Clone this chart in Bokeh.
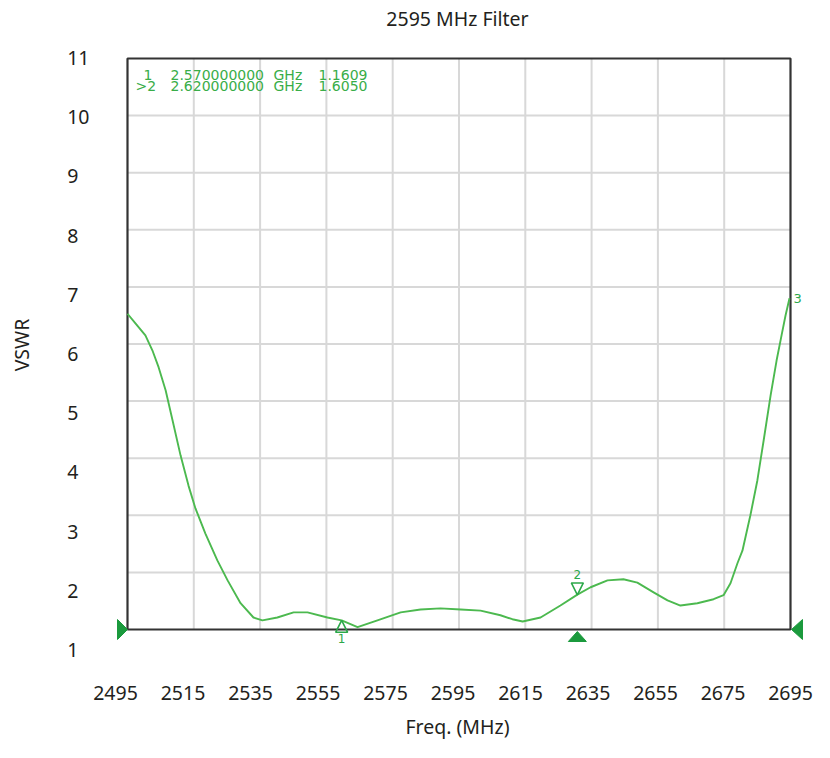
from bokeh.plotting import figure
from bokeh.models import Range1d, LinearAxis, FixedTicker, Label
from bokeh.core.properties import value
from bokeh.embed import file_html
from bokeh.resources import INLINE

# ---------------- data ----------------
title_text = "2595 MHz Filter"
x_label = "Freq. (MHz)"
y_label = "VSWR"

x_ticks = [2495, 2515, 2535, 2555, 2575, 2595, 2615, 2635, 2655, 2675, 2695]
y_ticks = [1, 2, 3, 4, 5, 6, 7, 8, 9, 10, 11]

freq = [2495.0, 2497.4, 2500.4, 2502.5, 2504.4, 2506.5, 2508.6, 2511.0, 2513.4,
        2515.5, 2518.5, 2522.1, 2525.2, 2529.1, 2533.0, 2535.7, 2540.2, 2545.1,
        2549.3, 2555.3, 2559.6, 2564.4, 2570.4, 2577.4, 2583.4, 2589.4, 2595.5,
        2601.5, 2607.5, 2611.1, 2614.2, 2619.6, 2625.6, 2630.7, 2634.7, 2639.8,
        2644.6, 2648.8, 2653.7, 2657.9, 2661.8, 2666.9, 2671.8, 2674.8, 2676.9,
        2679.0, 2680.5, 2682.9, 2685.0, 2686.9, 2689.0, 2690.8, 2692.3, 2693.5,
        2694.7]
vswr = [6.53, 6.36, 6.15, 5.89, 5.59, 5.19, 4.66, 4.05, 3.52,
        3.12, 2.68, 2.21, 1.86, 1.46, 1.21, 1.16, 1.21, 1.30,
        1.30, 1.21, 1.16, 1.04, 1.16, 1.30, 1.35, 1.37, 1.35,
        1.33, 1.25, 1.18, 1.14, 1.21, 1.42, 1.61, 1.74, 1.86,
        1.88, 1.82, 1.65, 1.51, 1.42, 1.46, 1.53, 1.60, 1.81,
        2.16, 2.38, 3.00, 3.61, 4.31, 5.10, 5.71, 6.15, 6.50,
        6.80]

# markers (display position on trace, instrument read-out)
marker_names = ["1", "2"]
marker_x = [2559.6, 2630.7]
marker_y = [1.1609, 1.6050]
readout_ids = ["1", ">2"]
readout_freq = ["2.570000000", "2.620000000"]
readout_unit = ["GHz", "GHz"]
readout_vals = ["1.1609", "1.6050"]
end_marker = "3"
ref_level = 1

# ---------------- layout constants (figure pixels) ----------------
W, H = 814, 742
BOX_L, BOX_R, BOX_T, BOX_B = 127, 790, 58, 629      # instrument graticule
FR_L, FR_R, FR_T, FR_B = 108, 806, 37, 652          # bokeh frame
PX_X = (BOX_R - BOX_L) / (x_ticks[-1] - x_ticks[0])  # px per MHz
PX_Y = (BOX_B - BOX_T) / (y_ticks[-1] - y_ticks[0])  # px per unit
LAB_X0, LAB_X1 = 115, 790                            # tick label centres
LAB_Y0, LAB_Y1 = 649, 57


def dx(px):
    return px / PX_X


def dy(px):  # screen px downward -> data
    return -px / PX_Y


x_start = x_ticks[0] - dx(BOX_L - FR_L)
x_end = x_ticks[-1] + dx(FR_R - BOX_R)
y_start = y_ticks[0] - (FR_B - BOX_B) / PX_Y
y_end = y_ticks[-1] + (BOX_T - FR_T) / PX_Y

lpx = (LAB_X1 - LAB_X0) / (x_ticks[-1] - x_ticks[0])
lab_x_start = x_ticks[0] - (LAB_X0 - FR_L) / lpx
lab_x_end = x_ticks[-1] + (FR_R - LAB_X1) / lpx
lpy = (LAB_Y0 - LAB_Y1) / (y_ticks[-1] - y_ticks[0])
lab_y_start = y_ticks[0] - (FR_B - LAB_Y0) / lpy
lab_y_end = y_ticks[-1] + (LAB_Y1 - FR_T) / lpy

FONT = "Noto Sans"
TXT = "#231f20"
GRID = "#d8d8d8"
BOXC = "#333333"
TRACE = "#4cb94f"
MK = "#2ca84a"
MK_SOLID = "#1b9a3d"
RO = "#39ad48"

p = figure(width=W, height=H,
           x_range=Range1d(x_start, x_end), y_range=Range1d(y_start, y_end),
           x_axis_location=None, y_axis_location=None,
           min_border_left=FR_L, min_border_right=W - FR_R,
           min_border_top=FR_T, min_border_bottom=H - FR_B,
           output_backend="svg", toolbar_location=None)
p.grid.grid_line_color = None
p.outline_line_color = None
p.background_fill_color = "white"
p.border_fill_color = "white"

p.title.text = title_text
p.title.align = "center"
p.title.vertical_align = "top"
p.title.standoff = 8
p.title.offset = 5
p.title.text_font = FONT
p.title.text_font_size = "19.5px"
p.title.text_font_style = "normal"
p.title.text_color = TXT

p.extra_x_ranges = {"lab": Range1d(lab_x_start, lab_x_end)}
p.extra_y_ranges = {"lab": Range1d(lab_y_start, lab_y_end)}

xaxis = LinearAxis(x_range_name="lab", ticker=FixedTicker(ticks=x_ticks),
                   axis_label=x_label)
yaxis = LinearAxis(y_range_name="lab", ticker=FixedTicker(ticks=y_ticks),
                   axis_label=y_label)
yaxis.major_label_overrides = {t: (str(t) + "\u2007" if t < 10 else str(t)) for t in y_ticks}
for ax in (xaxis, yaxis):
    ax.axis_line_color = None
    ax.major_tick_line_color = None
    ax.minor_tick_line_color = None
    ax.major_tick_in = 0
    ax.major_tick_out = 0
    ax.minor_tick_in = 0
    ax.minor_tick_out = 0
    ax.major_label_text_font = FONT
    ax.major_label_text_font_size = "19.5px"
    ax.major_label_text_color = TXT
    ax.axis_label_text_font = FONT
    ax.axis_label_text_font_size = "19.5px"
    ax.axis_label_text_font_style = "normal"
    ax.axis_label_text_color = TXT
xaxis.major_label_standoff = 33
xaxis.axis_label_standoff = 10
yaxis.major_label_standoff = 19
yaxis.axis_label_standoff = 29
p.add_layout(xaxis, "below")
p.add_layout(yaxis, "left")

# graticule
inner_x = x_ticks[1:-1]
inner_y = y_ticks[1:-1]
p.segment(x0=inner_x, x1=inner_x, y0=[y_ticks[0]] * len(inner_x), y1=[y_ticks[-1]] * len(inner_x),
          line_color=GRID, line_width=2)
p.segment(x0=[x_ticks[0]] * len(inner_y), x1=[x_ticks[-1]] * len(inner_y), y0=inner_y, y1=inner_y,
          line_color=GRID, line_width=2)
p.quad(left=[x_ticks[0]], right=[x_ticks[-1]], bottom=[y_ticks[0]], top=[y_ticks[-1]],
       fill_color=None, line_color=BOXC, line_width=2.2)

# trace
p.line(freq, vswr, line_color=TRACE, line_width=1.9, line_join="round")

# marker 1 (triangle pointing up below trace) and marker 2 (pointing down above)
m1x, m1y = marker_x[0], marker_y[0]
m2x, m2y = marker_x[1], marker_y[1]
p.patch([m1x, m1x - dx(6), m1x + dx(6)], [m1y, m1y + dy(12), m1y + dy(12)],
        fill_color=None, line_color=MK, line_width=1.6)
p.text(x=[m1x], y=[m1y + dy(18)], text=[marker_names[0]], text_align="center",
       text_baseline="middle", text_font=value("DejaVu Sans"), text_font_size="12px",
       text_color=MK)
p.patch([m2x, m2x - dx(6), m2x + dx(6)], [m2y, m2y - dy(12), m2y - dy(12)],
        fill_color=None, line_color=MK, line_width=1.6)
p.text(x=[m2x], y=[m2y - dy(20)], text=[marker_names[1]], text_align="center",
       text_baseline="middle", text_font=value("DejaVu Sans"), text_font_size="12px",
       text_color=MK)

# end-of-trace marker label
p.text(x=[freq[-1]], y=[vswr[-1]], text=[end_marker], x_offset=4, text_align="left",
       text_baseline="middle", text_font=value("DejaVu Sans"), text_font_size="13px",
       text_color=MK)

# reference level / active marker solid triangles
xl, xr = x_ticks[0], x_ticks[-1]
p.patch([xl, xl - dx(10), xl - dx(10)], [ref_level, ref_level - dy(10), ref_level + dy(10)],
        fill_color=MK_SOLID, line_color=MK_SOLID)
p.patch([xr + dx(1), xr + dx(12), xr + dx(12)], [ref_level, ref_level - dy(10), ref_level + dy(10)],
        fill_color=MK_SOLID, line_color=MK_SOLID)
p.patch([m2x, m2x - dx(9), m2x + dx(9)], [ref_level + dy(2), ref_level + dy(12), ref_level + dy(12)],
        fill_color=MK_SOLID, line_color=MK_SOLID)

# marker read-out table
col_px = [16, 43, 146, 191]
row_px = [16.5, 27.7]
for i in range(len(readout_ids)):
    yy = y_ticks[-1] + dy(row_px[i])
    id_px = col_px[0] if not readout_ids[i].startswith(">") else 8
    cells = [(id_px, readout_ids[i]), (col_px[1], readout_freq[i]),
             (col_px[2], readout_unit[i]), (col_px[3], readout_vals[i])]
    for cx, txt in cells:
        p.add_layout(Label(x=x_ticks[0] + dx(cx), y=yy, text=txt, text_align="left",
                           text_baseline="middle", text_font="DejaVu Sans",
                           text_font_size="14px", text_color=RO))

open("out.html", "w").write(file_html(p, INLINE))
